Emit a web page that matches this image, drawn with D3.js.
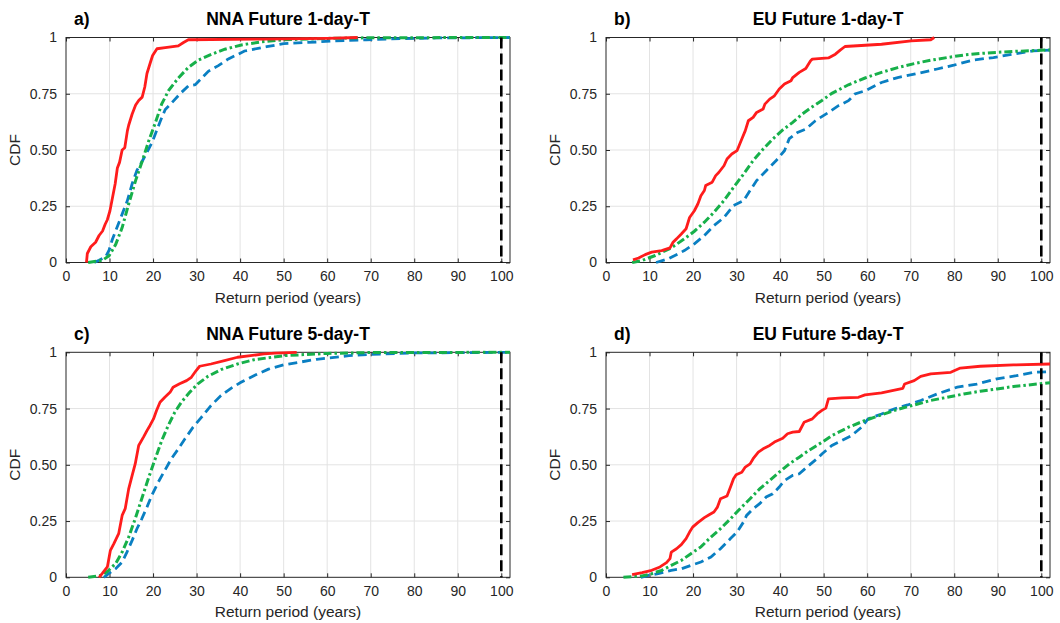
<!DOCTYPE html>
<html>
<head>
<meta charset="utf-8">
<script src="https://cdn.jsdelivr.net/npm/d3@7"></script>
<style>
  html, body { margin: 0; padding: 0; background: #fff; }
  svg { display: block; font-family: "Liberation Sans", Arial, Helvetica, sans-serif; }
</style>
</head>
<body>
<svg id="chart" width="1060" height="623"></svg>
<script>
// ---------- data ----------
const panelLetters = ["a)", "b)", "c)", "d)"];
const panelTitles = ["NNA Future 1-day-T", "EU Future 1-day-T", "NNA Future 5-day-T", "EU Future 5-day-T"];
const xTicks = [0, 10, 20, 30, 40, 50, 60, 70, 80, 90, 100];
const yTicks = [0, 0.25, 0.5, 0.75, 1];
const yTickLabels = ["0", "0.25", "0.50", "0.75", "1"];
const xLabel = "Return period (years)";
const yLabel = "CDF";
const referencePeriod = 100;

// Panel a) NNA 1-day
const redA = [[4.7,0],[4.9,0.04],[5.7,0.07],[6.8,0.09],[7.6,0.12],[8.4,0.14],[9.0,0.17],[9.5,0.19],[10.1,0.23],[10.6,0.28],[11.3,0.35],[11.8,0.42],[12.3,0.445],[12.9,0.50],[13.5,0.51],[14.1,0.585],[14.4,0.61],[15.2,0.66],[16.0,0.70],[16.7,0.72],[17.5,0.735],[18.1,0.78],[18.6,0.84],[19.4,0.89],[19.9,0.92],[20.9,0.95],[22.8,0.955],[25.8,0.963],[27,0.978],[28.1,0.99],[45,0.993],[60,0.996],[67,1.0]];
const blueA = [[6.5,0],[7.6,0.01],[9.1,0.025],[9.9,0.055],[10.6,0.1],[11.8,0.16],[12.9,0.215],[14.1,0.275],[15.2,0.35],[16.3,0.41],[17.5,0.45],[18.6,0.49],[19.8,0.535],[20.5,0.57],[21.7,0.63],[22.8,0.68],[24.3,0.71],[26.2,0.75],[28.1,0.785],[29.7,0.79],[31.2,0.82],[32.7,0.85],[35,0.875],[37.3,0.905],[39.5,0.925],[41,0.94],[46.1,0.959],[50,0.973],[57.6,0.98],[61.5,0.985],[69,0.99],[76.8,0.995],[85,0.998],[102,1]];
const greenA = [[5.1,0],[8.4,0.01],[9.9,0.03],[11.4,0.08],[12.9,0.155],[14.4,0.26],[16,0.365],[17.5,0.45],[19,0.54],[20.5,0.62],[22,0.705],[23.6,0.765],[25.8,0.82],[28.1,0.867],[30.4,0.9],[33.5,0.926],[36.5,0.948],[40.3,0.967],[45,0.981],[50,0.99],[60,0.996],[70,0.999],[102,1]];

// Panel b) EU 1-day
const redB = [[6.2,0.012],[7.5,0.02],[9,0.035],[10.5,0.046],[12.8,0.053],[14.7,0.065],[15.4,0.09],[16.2,0.105],[17.3,0.127],[18.4,0.15],[19.2,0.2],[20.3,0.23],[21.1,0.26],[21.8,0.297],[22.6,0.32],[22.9,0.342],[24.4,0.357],[25.2,0.386],[25.9,0.4],[27.1,0.43],[27.8,0.46],[28.9,0.482],[30.1,0.497],[31.2,0.549],[32,0.586],[32.7,0.63],[33.8,0.645],[34.6,0.667],[36.1,0.682],[36.5,0.704],[37.6,0.726],[38.7,0.741],[39.8,0.771],[41,0.793],[42.5,0.808],[42.9,0.822],[44.4,0.845],[45.9,0.862],[47,0.897],[47.4,0.904],[49.6,0.907],[51.1,0.909],[52.7,0.926],[53.8,0.944],[54.9,0.96],[63.3,0.97],[70.1,0.985],[74.6,0.99],[75.4,1.0]];
const blueB = [[11.5,0],[14.3,0.016],[16.5,0.038],[18,0.053],[20.3,0.083],[22.6,0.12],[24.8,0.164],[27.1,0.2],[29.3,0.253],[31.6,0.275],[33.1,0.32],[34.6,0.364],[36.8,0.408],[39.1,0.453],[41,0.497],[42.1,0.55],[44,0.578],[45.9,0.593],[48.1,0.63],[51.1,0.667],[53.4,0.697],[55.7,0.719],[57.2,0.749],[59.5,0.763],[63.3,0.8],[67,0.822],[70.8,0.837],[76.1,0.86],[79.9,0.877],[84.5,0.9],[89,0.911],[93.6,0.926],[98.1,0.941],[102,0.944]];
const greenB = [[6,0],[8.3,0.009],[11.3,0.031],[15,0.065],[18,0.105],[20.3,0.139],[22.6,0.179],[24.8,0.223],[27.1,0.275],[29.3,0.334],[31.6,0.393],[33.8,0.453],[36.1,0.504],[38.3,0.549],[40.6,0.589],[42.9,0.623],[45.1,0.66],[47.4,0.692],[49.6,0.72],[51.9,0.752],[55.7,0.79],[59.5,0.82],[63.3,0.845],[67,0.866],[70.8,0.884],[74.6,0.899],[78.4,0.911],[82.2,0.922],[86,0.929],[89.8,0.934],[93.6,0.938],[102,0.945]];

// Panel c) NNA 5-day
const redC = [[7.6,0],[8.3,0.016],[9.5,0.046],[10.2,0.12],[11,0.15],[12.1,0.194],[12.9,0.275],[13.6,0.305],[14.4,0.393],[15.2,0.453],[15.9,0.504],[16.7,0.586],[17.8,0.623],[18.6,0.652],[19.3,0.675],[20.1,0.704],[20.8,0.741],[21.6,0.778],[22.7,0.8],[23.9,0.822],[24.6,0.845],[26.1,0.86],[27.7,0.874],[28.8,0.889],[29.9,0.919],[30.7,0.938],[33.3,0.948],[36.4,0.963],[39.4,0.978],[42.4,0.985],[45.5,0.993],[48,0.996],[53,1.0]];
const blueC = [[8.7,0],[9.8,0.016],[11.4,0.038],[12.9,0.068],[14,0.112],[15.2,0.164],[16.3,0.216],[17.4,0.26],[18.6,0.312],[19.7,0.364],[21.2,0.423],[22.7,0.475],[24.2,0.527],[25.8,0.571],[27.3,0.615],[29.2,0.667],[31.1,0.711],[33.3,0.763],[35.6,0.808],[37.9,0.84],[40.2,0.867],[43.6,0.9],[46.5,0.925],[50,0.944],[57.6,0.969],[65,0.985],[70,0.991],[80,0.997],[102,1]];
const greenC = [[5.1,0],[8.3,0.009],[9.8,0.031],[11.4,0.061],[12.9,0.112],[14.4,0.179],[15.9,0.26],[17.4,0.349],[18.9,0.438],[20.5,0.527],[22,0.608],[23.5,0.675],[25,0.734],[26.5,0.778],[28.4,0.822],[30.3,0.86],[32.6,0.893],[35.6,0.923],[39.4,0.948],[43.2,0.967],[50,0.985],[60,0.995],[70,0.999],[102,1]];

// Panel d) EU 5-day
const redD = [[6,0.012],[8.3,0.021],[10.5,0.031],[12.4,0.046],[13.9,0.065],[14.7,0.083],[15,0.112],[16.2,0.127],[17.3,0.145],[18.4,0.172],[19.2,0.201],[19.9,0.223],[21.1,0.243],[22.6,0.265],[23.7,0.278],[24.8,0.29],[25.6,0.312],[26.3,0.349],[27.8,0.361],[28.6,0.401],[29.3,0.438],[29.9,0.456],[31.2,0.467],[32,0.49],[33.1,0.504],[33.8,0.527],[35,0.556],[36.1,0.571],[37.6,0.586],[38.7,0.601],[40.6,0.618],[41.7,0.638],[42.9,0.645],[44.4,0.648],[45.5,0.689],[47.4,0.704],[48.5,0.726],[49.6,0.742],[50.5,0.752],[51.1,0.793],[54.2,0.797],[58,0.8],[59.5,0.811],[63.3,0.82],[68.2,0.84],[68.6,0.859],[70.8,0.874],[72.3,0.893],[74.6,0.904],[79.2,0.911],[81.4,0.93],[86,0.938],[93.6,0.944],[102,0.948]];
const blueD = [[8,0],[9.8,0.009],[12,0.016],[15,0.031],[17.3,0.038],[19.5,0.053],[21.8,0.068],[24.1,0.09],[26.3,0.127],[28.6,0.172],[30.1,0.201],[31.6,0.246],[32.3,0.275],[33.8,0.305],[35.3,0.327],[36.8,0.357],[38.3,0.371],[39.8,0.401],[41,0.43],[42.9,0.453],[44.4,0.46],[46.6,0.497],[48.9,0.534],[49.6,0.548],[51.9,0.586],[54.2,0.608],[56.4,0.63],[58.7,0.667],[60.2,0.704],[63.3,0.726],[66.3,0.749],[69.3,0.766],[72.3,0.786],[76.1,0.815],[80.7,0.845],[85.2,0.859],[89.8,0.882],[94.3,0.896],[98.1,0.911],[102,0.914]];
const greenD = [[4,0],[8.3,0.006],[10.5,0.016],[12.8,0.031],[15,0.053],[17.3,0.075],[19.5,0.105],[21.8,0.135],[24.1,0.179],[26.3,0.216],[28.6,0.26],[30.8,0.305],[33.1,0.349],[35.3,0.393],[37.6,0.43],[39.8,0.467],[42.1,0.504],[44.4,0.534],[46.6,0.564],[49.6,0.6],[51.9,0.63],[55.7,0.667],[59.5,0.697],[63.3,0.722],[67,0.746],[70.8,0.766],[74.6,0.786],[78.4,0.8],[82.2,0.815],[86,0.827],[89.8,0.837],[93.6,0.848],[102,0.865]];

const redSeries = [redA, redB, redC, redD];
const blueSeries = [blueA, blueB, blueC, blueD];
const greenSeries = [greenA, greenB, greenC, greenD];

// ---------- layout ----------
const plotW = 444, plotH = 225;
const origins = [[66, 37.5], [606, 37.5], [66, 352.3], [606, 352.3]];
const colors = { red: "#ff1c1c", blue: "#0a7fc2", green: "#17b04a", grid: "#e3e3e3" };

const svg = d3.select("#chart");
const x = d3.scaleLinear().domain([0, 102]).range([0, plotW]);
const y = d3.scaleLinear().domain([0, 1]).range([plotH, 0]);
const line = d3.line().x(d => x(d[0])).y(d => y(d[1]));

svg.append("defs").append("clipPath").attr("id", "clip")
  .append("rect").attr("x", 0).attr("y", -2).attr("width", plotW).attr("height", plotH + 4);

panelTitles.forEach((title, i) => {
  const [ox, oy] = origins[i];
  const g = svg.append("g").attr("transform", `translate(${ox},${oy})`);

  // grid
  g.append("g").selectAll("line.vx").data(xTicks.filter(t => t > 0)).join("line")
    .attr("x1", d => x(d)).attr("x2", d => x(d)).attr("y1", 0).attr("y2", plotH)
    .attr("stroke", colors.grid).attr("stroke-width", 1);
  g.append("g").selectAll("line.hy").data(yTicks.filter(t => t > 0 && t < 1)).join("line")
    .attr("x1", 0).attr("x2", plotW).attr("y1", d => y(d)).attr("y2", d => y(d))
    .attr("stroke", colors.grid).attr("stroke-width", 1);

  // axes (bottom / left with labels, top / right ticks only), inward ticks
  const axB = g.append("g").attr("transform", `translate(0,${plotH})`)
    .call(d3.axisBottom(x).tickValues(xTicks).tickSize(-4).tickPadding(9).tickFormat(d3.format("d")));
  const axL = g.append("g")
    .call(d3.axisLeft(y).tickValues(yTicks).tickSize(-4).tickPadding(9).tickFormat((d, k) => yTickLabels[k]));
  const axT = g.append("g")
    .call(d3.axisTop(x).tickValues(xTicks).tickSize(-4).tickFormat(""));
  const axR = g.append("g").attr("transform", `translate(${plotW},0)`)
    .call(d3.axisRight(y).tickValues(yTicks).tickSize(-4).tickFormat(""));
  [axB, axL, axT, axR].forEach(a => {
    a.select(".domain").remove();
    a.selectAll(".tick line").attr("stroke", "#262626").attr("stroke-width", 1);
    a.selectAll(".tick text").attr("fill", "#262626").style("font-size", "14px")
      .style("font-family", "'Liberation Sans', Arial, sans-serif");
  });
  g.append("rect").attr("x", 0).attr("y", 0).attr("width", plotW).attr("height", plotH)
    .attr("fill", "none").attr("stroke", "#262626").attr("stroke-width", 1);

  // data
  const dg = g.append("g").attr("clip-path", "url(#clip)");
  dg.append("path").datum(blueSeries[i]).attr("d", line).attr("fill", "none")
    .attr("stroke", colors.blue).attr("stroke-width", 2.8).attr("stroke-dasharray", "9,5");
  dg.append("path").datum(greenSeries[i]).attr("d", line).attr("fill", "none")
    .attr("stroke", colors.green).attr("stroke-width", 3).attr("stroke-dasharray", "8,3,2.5,3");
  dg.append("path").datum(redSeries[i]).attr("d", line).attr("fill", "none")
    .attr("stroke", colors.red).attr("stroke-width", 2.8).attr("stroke-linejoin", "round");
  dg.append("line").attr("x1", x(referencePeriod)).attr("x2", x(referencePeriod))
    .attr("y1", 0).attr("y2", plotH).attr("stroke", "#000").attr("stroke-width", 2.6)
    .attr("stroke-dasharray", "11,5");

  // labels
  g.append("text").attr("x", plotW / 2).attr("y", plotH + 40).attr("text-anchor", "middle")
    .style("font-size", "15.5px").attr("fill", "#262626").text(xLabel);
  g.append("text").attr("transform", `translate(${-51},${plotH / 2}) rotate(-90)`)
    .attr("text-anchor", "middle").attr("dy", "0.35em").style("font-size", "15.5px").attr("fill", "#262626").text(yLabel);
  g.append("text").attr("x", plotW / 2).attr("y", -12.5).attr("text-anchor", "middle")
    .style("font-size", "17.5px").style("font-weight", "bold").attr("fill", "#000").text(title);
  g.append("text").attr("x", 8).attr("y", -12.5).attr("text-anchor", "start")
    .style("font-size", "17.5px").style("font-weight", "bold").attr("fill", "#000").text(panelLetters[i]);
});
</script>
</body>
</html>
